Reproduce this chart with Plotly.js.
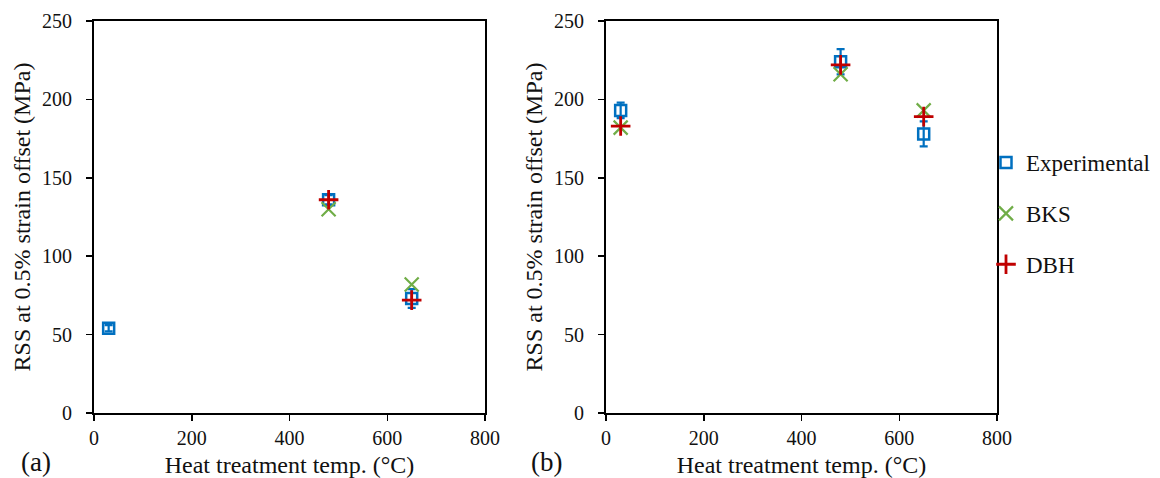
<!DOCTYPE html>
<html><head><meta charset="utf-8">
<script src="https://cdn.plot.ly/plotly-3.0.1.min.js"></script>
<style>html,body{margin:0;padding:0;background:#fff}#chart{width:1160px;height:478px}</style>
</head><body><div id="chart"></div>
<script>
// Panel (a)
const aExpX = [30, 480, 650];
const aExpY = [54, 136, 73];
const aExpErr = [2, 3, 6];
const aBksX = [480, 650];
const aBksY = [130, 82];
const aDbhX = [480, 650];
const aDbhY = [136, 72];
// Panel (b)
const bExpX = [30, 480, 650];
const bExpY = [193, 224, 178];
const bExpErr = [5, 8, 8];
const bBksX = [30, 480, 650];
const bBksY = [182, 216, 193];
const bDbhX = [30, 480, 650];
const bDbhY = [183, 222, 189];
// Labels
const xTicks = [0, 200, 400, 600, 800];
const yTicks = [0, 50, 100, 150, 200, 250];
const xTitle = 'Heat treatment temp. (°C)';
const yTitle = 'RSS at 0.5% strain offset (MPa)';
const seriesNames = ['Experimental', 'BKS', 'DBH'];
const panelLabels = ['(a)', '(b)'];

const blue = 'rgb(0,112,192)', green = 'rgb(112,173,71)', red = 'rgb(192,0,0)';
const serif = 'Liberation Serif, Times New Roman, serif';
const ink = '#111';

function exp(x, y, e, xa, ya, show) {
  return {x, y, xaxis: xa, yaxis: ya, type: 'scatter', mode: 'markers', name: seriesNames[0],
    legendgroup: 'g1', showlegend: show,
    marker: {symbol: 'square-open', size: 11, color: blue, line: {width: 2.5, color: blue}},
    error_y: {type: 'data', array: e, visible: true, color: blue, thickness: 2.2, width: 4}};
}
function bks(x, y, xa, ya, show) {
  return {x, y, xaxis: xa, yaxis: ya, type: 'scatter', mode: 'markers', name: seriesNames[1],
    legendgroup: 'g2', showlegend: show,
    marker: {symbol: 'x-thin-open', size: 14, color: green, line: {width: 2.2, color: green}}};
}
function dbh(x, y, xa, ya, show) {
  return {x, y, xaxis: xa, yaxis: ya, type: 'scatter', mode: 'markers', name: seriesNames[2],
    legendgroup: 'g3', showlegend: show,
    marker: {symbol: 'cross-thin-open', size: 14, color: red, line: {width: 2.8, color: red}}};
}

const data = [
  exp(aExpX, aExpY, aExpErr, 'x', 'y', false),
  bks(aBksX, aBksY, 'x', 'y', false),
  dbh(aDbhX, aDbhY, 'x', 'y', false),
  exp(bExpX, bExpY, bExpErr, 'x2', 'y2', true),
  bks(bBksX, bBksY, 'x2', 'y2', true),
  dbh(bDbhX, bDbhY, 'x2', 'y2', true)
];

const W = 1160, H = 478;
function xax(l, r, anchor) {
  return {domain: [l / W, r / W], anchor, range: [0, 800], tickvals: xTicks, automargin: false,
    showgrid: false, zeroline: false, showline: true, linecolor: '#000', linewidth: 2, mirror: true,
    ticks: 'outside', ticklen: 6, tickwidth: 1.5, tickcolor: '#000', ticklabelstandoff: 0,
    tickfont: {family: serif, size: 20, color: ink},
    title: {text: xTitle, font: {family: serif, size: 24, color: ink}, standoff: 8}};
}
function yax(t, b, anchor) {
  return {domain: [(H - b) / H, (H - t) / H], anchor, range: [0, 250], tickvals: yTicks, automargin: false,
    showgrid: false, zeroline: false, showline: true, linecolor: '#000', linewidth: 2, mirror: true,
    ticks: 'outside', ticklen: 6, tickwidth: 1.5, tickcolor: '#000', ticklabelstandoff: 10,
    tickfont: {family: serif, size: 20, color: ink},
    title: {text: yTitle, font: {family: serif, size: 24, color: ink}, standoff: 5}};
}

const layout = {
  width: W, height: H, margin: {l: 0, r: 0, t: 0, b: 0, autoexpand: false},
  paper_bgcolor: '#fff', plot_bgcolor: '#fff',
  xaxis: xax(94, 485, 'y'), yaxis: yax(21, 413, 'x'),
  xaxis2: xax(606, 997, 'y2'), yaxis2: yax(21, 413, 'x2'),
  showlegend: true,
  legend: {x: 986 / W, y: 0.705, xanchor: 'left', yanchor: 'top', traceorder: 'grouped', tracegroupgap: 18,
    font: {family: serif, size: 23, color: ink}, itemwidth: 30, bgcolor: 'rgba(0,0,0,0)'},
  annotations: [
    {text: panelLabels[0], x: 19 / W, y: (H - 462) / H, xref: 'paper', yref: 'paper', xanchor: 'left', yanchor: 'middle', showarrow: false, font: {family: serif, size: 27, color: ink}},
    {text: panelLabels[1], x: 529 / W, y: (H - 462) / H, xref: 'paper', yref: 'paper', xanchor: 'left', yanchor: 'middle', showarrow: false, font: {family: serif, size: 27, color: ink}}
  ]
};

Plotly.newPlot('chart', data, layout, {displayModeBar: false, staticPlot: true});
</script>
</body></html>
